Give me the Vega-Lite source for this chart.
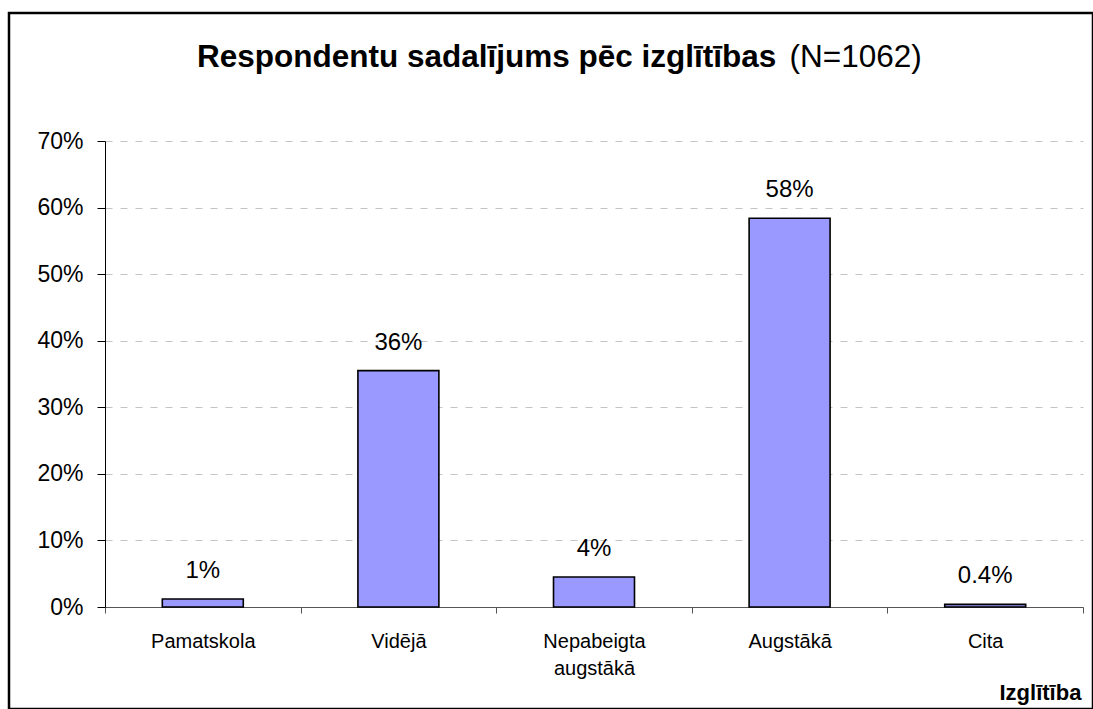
{
  "$schema": "https://vega.github.io/schema/vega-lite/v6.json",
  "width": 1084,
  "height": 696,
  "autosize": {"type": "none"},
  "padding": {"left": 9, "top": 13, "right": 0, "bottom": 0},
  "background": "white",
  "config": {
    "view": {"stroke": "black", "strokeWidth": 2.5},
    "font": "Liberation Sans"
  },
  "title": {
    "text": "Respondentu sadalījums pēc izglītības",
    "anchor": "start",
    "frame": "group",
    "orient": "top",
    "offset": 0,
    "dx": 188,
    "dy": 60,
    "font": "Liberation Sans",
    "fontSize": 31.5,
    "fontWeight": "bold",
    "color": "black"
  },
  "data": {
    "values": [
      {"izglitiba": "Pamatskola", "share": 0.012, "label": "1%"},
      {"izglitiba": "Vidējā", "share": 0.355, "label": "36%"},
      {"izglitiba": "Nepabeigta augstākā", "share": 0.045, "label": "4%"},
      {"izglitiba": "Augstākā", "share": 0.584, "label": "58%"},
      {"izglitiba": "Cita", "share": 0.004, "label": "0.4%"}
    ]
  },
  "encoding": {
    "x": {
      "field": "izglitiba",
      "type": "nominal",
      "sort": null,
      "scale": {"range": [96, 1074], "paddingInner": 0, "paddingOuter": 0},
      "axis": {
        "title": "Izglītība",
        "orient": "bottom",
        "offset": -102,
        "tickBand": "extent",
        "tickSize": 6,
        "tickColor": "#555555",
        "domainColor": "#555555",
        "labelAngle": 0,
        "labelFont": "Liberation Sans",
        "labelFontSize": 20,
        "labelPadding": 18,
        "labelColor": "black",
        "labelLineHeight": 27,
        "labelExpr": "datum.value == 'Nepabeigta augstākā' ? ['Nepabeigta', 'augstākā'] : datum.label",
        "grid": false,
        "titleFont": "Liberation Sans",
        "titleFontSize": 22,
        "titleFontWeight": "bold",
        "titleColor": "black",
        "titleAlign": "left",
        "titleBaseline": "alphabetic",
        "titleX": 990,
        "titleY": 92
      }
    },
    "y": {
      "field": "share",
      "type": "quantitative",
      "scale": {"domain": [0, 0.7], "range": [594, 128], "nice": false, "zero": true},
      "axis": {
        "title": "(N=1062)",
        "titleAngle": 0,
        "titleAlign": "left",
        "titleBaseline": "alphabetic",
        "titleX": 684,
        "titleY": 53,
        "titleFont": "Liberation Sans",
        "titleFontSize": 31.5,
        "titleFontWeight": "normal",
        "titleColor": "black",
        "format": ".0%",
        "values": [0, 0.1, 0.2, 0.3, 0.4, 0.5, 0.6, 0.7],
        "offset": -96,
        "tickSize": 8,
        "tickColor": "black",
        "domainColor": "black",
        "labelFont": "Liberation Sans",
        "labelFontSize": 23,
        "labelPadding": 14,
        "labelColor": "black",
        "grid": true,
        "gridColor": "#c4c4c4",
        "gridDash": [7, 8]
      }
    }
  },
  "layer": [
    {
      "mark": {"type": "bar", "width": {"band": 0.414}, "fill": "#9999FF", "stroke": "black", "strokeWidth": 1.6}
    },
    {
      "mark": {"type": "text", "dy": -21, "baseline": "alphabetic", "fontSize": 24, "font": "Liberation Sans", "fill": "black"},
      "encoding": {"text": {"field": "label"}}
    }
  ]
}
